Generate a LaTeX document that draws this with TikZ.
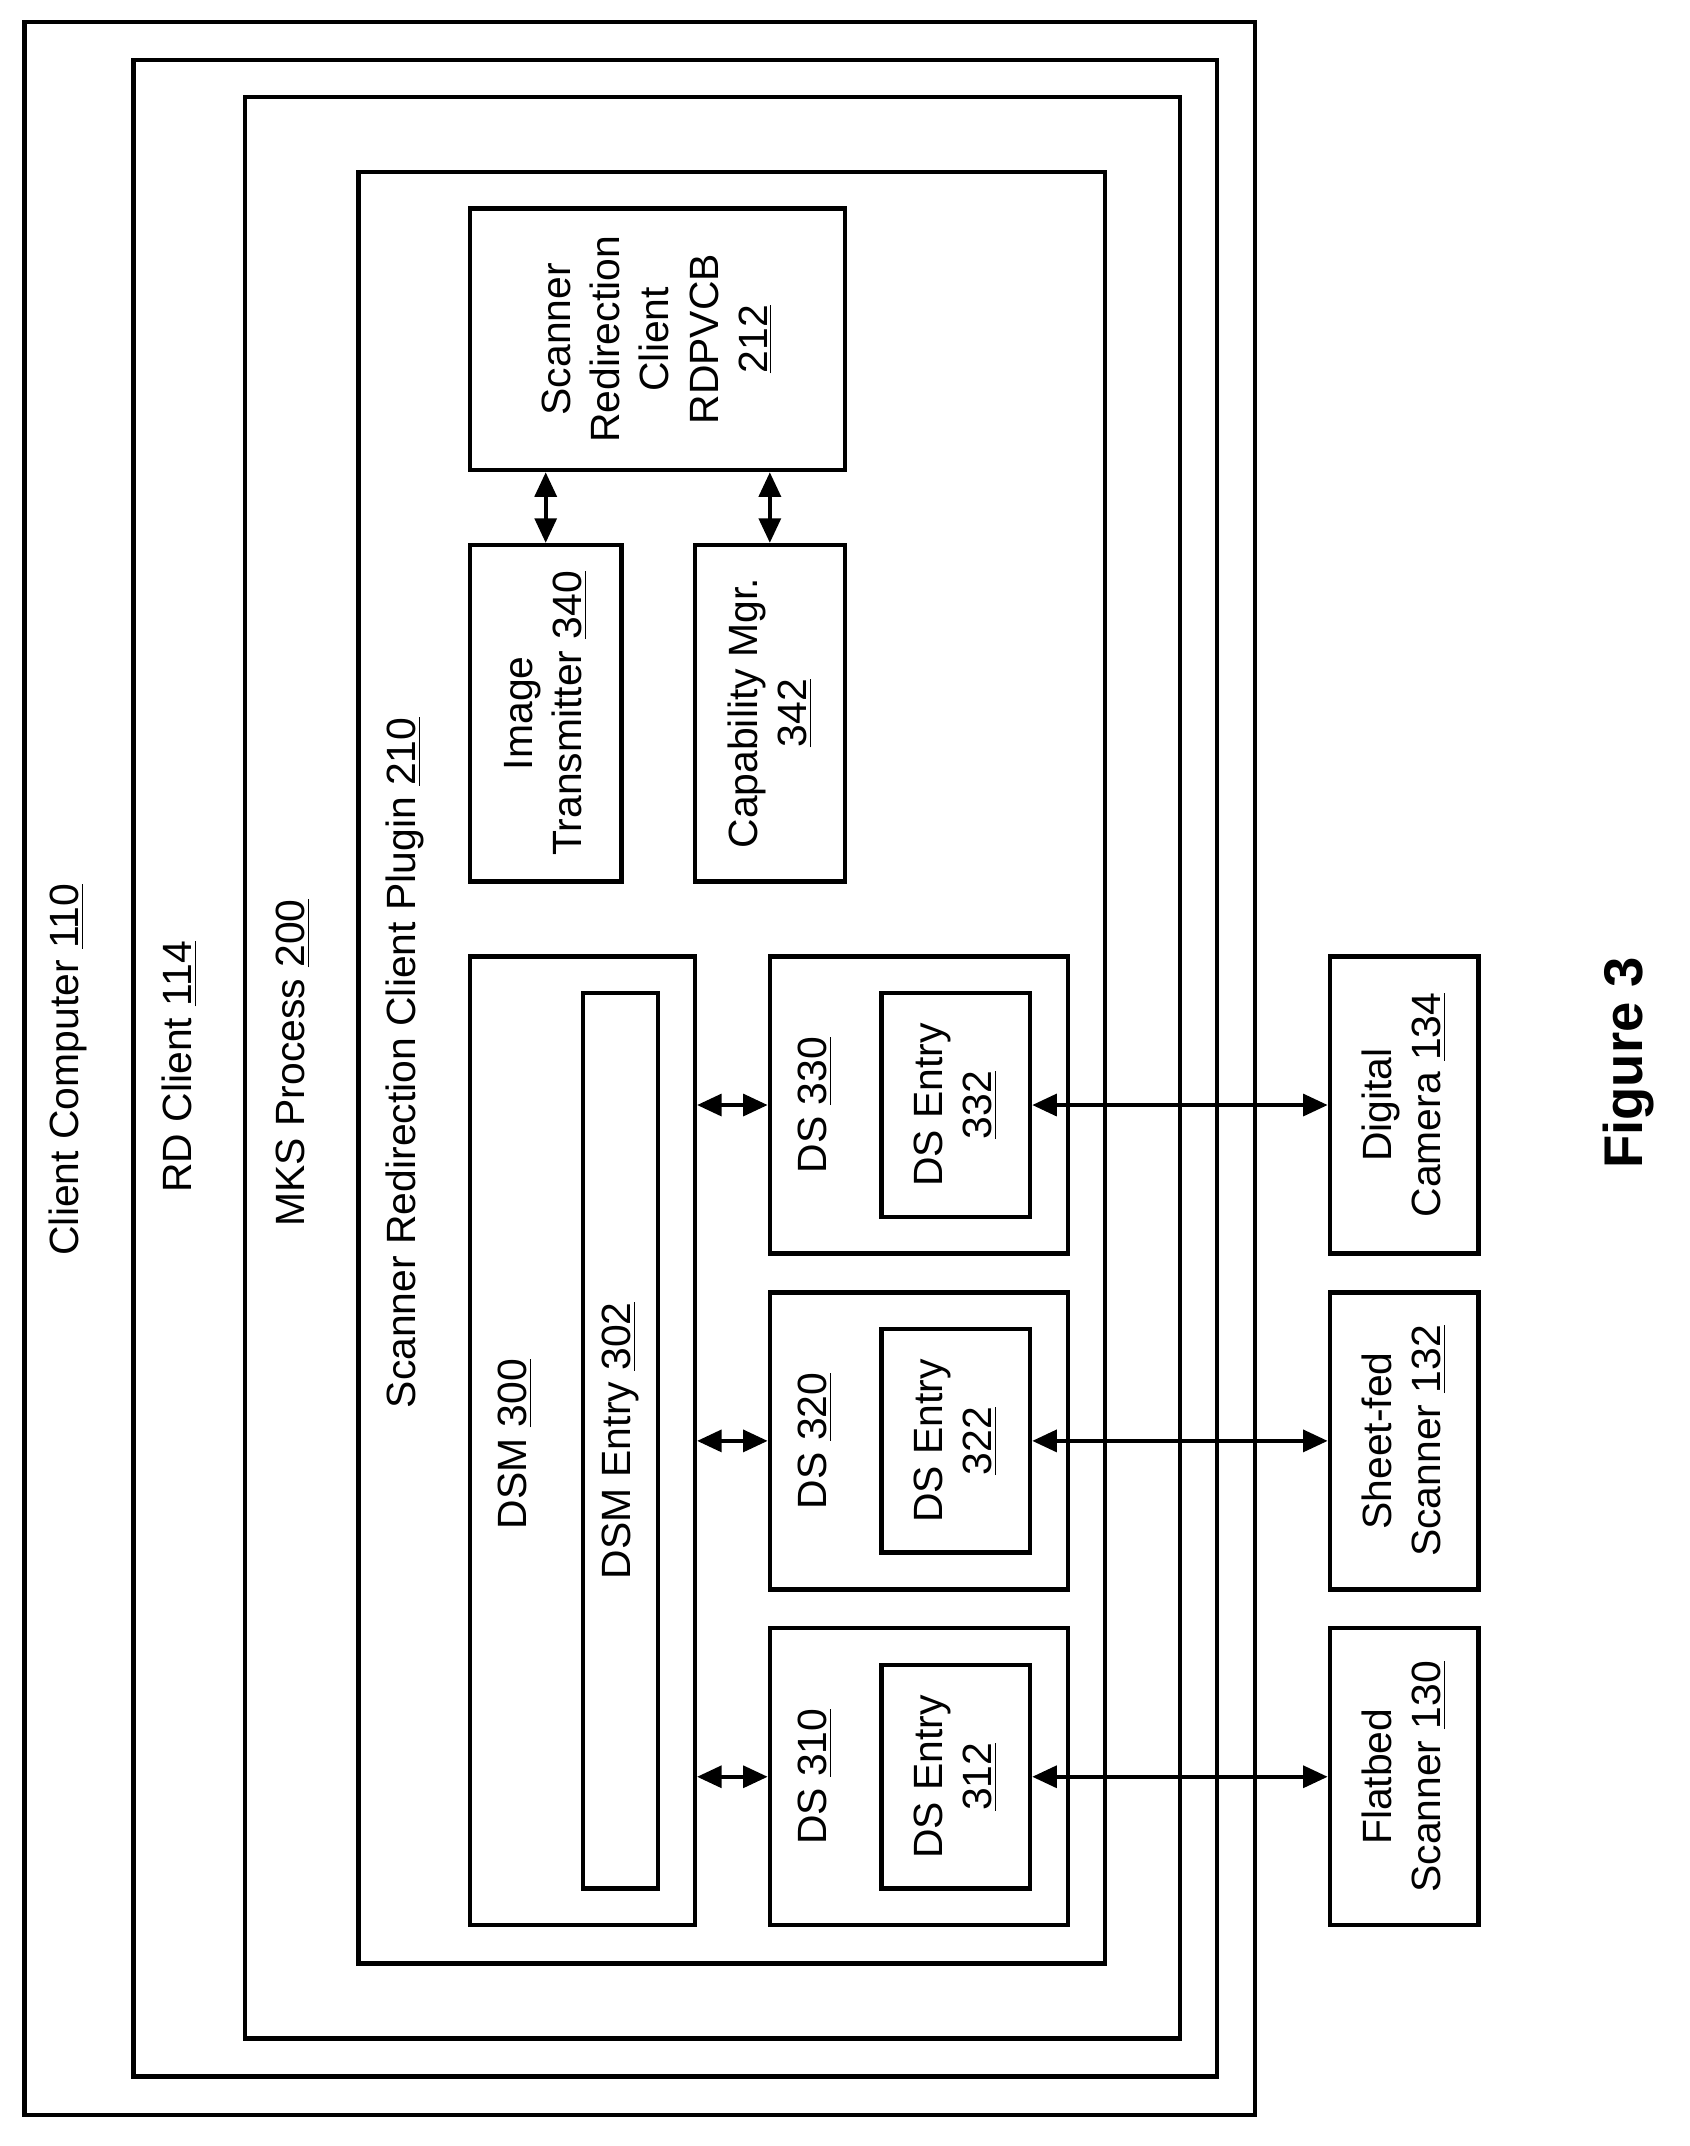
\documentclass[tikz,border=0pt]{standalone}
\usepackage{fontspec}
\setmainfont{Liberation Sans}
\usetikzlibrary{arrows.meta}
\begin{document}
\begin{tikzpicture}[x=0.5pt,y=-0.5pt,
  box/.style={draw,line width=1.6pt},
  lbl/.style={rotate=90,font=\fontsize{15}{18}\selectfont,align=center,inner sep=0pt},
  arr/.style={line width=1.4pt,{Triangle[length=9pt,width=8pt]}-{Triangle[length=9pt,width=8pt]}}]
\useasboundingbox (0,0) rectangle (1240,1575);
\newcommand{\bx}[3]{\draw[box] (#2) rectangle (#3); \coordinate (#1a) at (#2); \coordinate (#1b) at (#3);}
\draw[box] (18,16) rectangle (921,1552);
\draw[box] (98,44) rectangle (893,1524);
\draw[box] (180,71) rectangle (866,1496);
\draw[box] (263,126) rectangle (811,1441);
\node[box,minimum width=275*0.5pt,minimum height=192*0.5pt] (src) at (482.5,249) {};
\node[box,minimum width=111*0.5pt,minimum height=247*0.5pt] (it) at (400.5,523.5) {};
\node[box,minimum width=110*0.5pt,minimum height=247*0.5pt] (cm) at (565,523.5) {};
\node[box,minimum width=165*0.5pt,minimum height=711*0.5pt] (dsm) at (427.5,1057.5) {};
\node[box,minimum width=55*0.5pt,minimum height=657*0.5pt] (dsme) at (455.5,1057.5) {};
\foreach \n/\y in {330/811,320/1057.5,310/1304}{
  \node[box,minimum width=219*0.5pt,minimum height=218*0.5pt] (ds\n) at (674.5,\y) {};
  \node[box,minimum width=109*0.5pt,minimum height=164*0.5pt] (dse\n) at (701.5,\y) {};
}
\node[box,minimum width=109*0.5pt,minimum height=218*0.5pt] (cam) at (1030.5,811) {};
\node[box,minimum width=109*0.5pt,minimum height=218*0.5pt] (sheet) at (1030.5,1057.5) {};
\node[box,minimum width=109*0.5pt,minimum height=218*0.5pt] (flat) at (1030.5,1304) {};
% labels
\node[lbl] (l1) at (50,785) {Client Computer \underline{110}};
\node[lbl] (l2) at (132,783) {RD Client \underline{114}};
\node[lbl] (l3) at (215,780) {MKS Process \underline{200}};
\node[lbl] (l4) at (297,780) {Scanner Redirection Client Plugin \underline{210}};
\node[lbl] at (src) {Scanner\\Redirection\\Client\\RDPVCB\\\underline{212}};
\node[lbl] at (it) {Image\\Transmitter \underline{340}};
\node[lbl] at (cm) {Capability Mgr.\\\underline{342}};
\node[lbl] (l5) at (378,1060) {DSM \underline{300}};
\node[lbl] at (dsme) {DSM Entry \underline{302}};
\foreach \n/\y/\e in {330/811/332,320/1057.5/322,310/1304/312}{
  \node[lbl] at (598,\y) {DS \underline{\n}};
  \node[lbl] at (dse\n) {DS Entry\\\underline{\e}};
}
\node[lbl] at (cam) {Digital\\Camera \underline{134}};
\node[lbl] at (sheet) {Sheet-fed\\Scanner \underline{132}};
\node[lbl] at (flat) {Flatbed\\Scanner \underline{130}};
\node[lbl,font=\fontsize{20}{24}\selectfont\bfseries] (fig) at (1195,780) {Figure 3};
% arrows
\draw[arr] (src.south -| it) -- (it.north);
\draw[arr] (src.south -| cm) -- (cm.north);
\foreach \n/\d in {330/cam,320/sheet,310/flat}{
  \draw[arr] (dsm.east |- ds\n) -- (ds\n.west);
  \draw[arr] (dse\n.east) -- (\d.west);
}
\end{tikzpicture}
\end{document}
